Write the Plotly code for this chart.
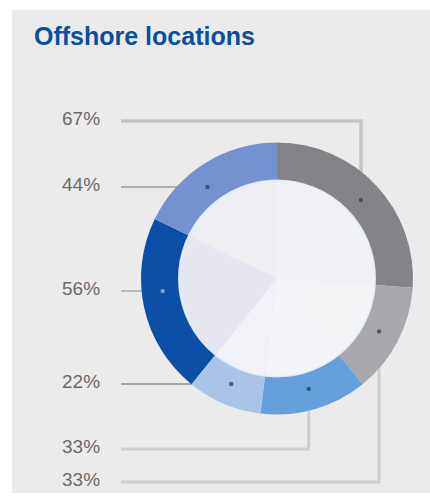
import numpy as np
import plotly.graph_objects as go

# ---- data (ring order, clockwise from 12 o'clock) ----
segment_labels = ["67%", "33%", "33%", "22%", "56%", "44%"]
segment_shares = [26.1, 13.1, 12.8, 8.9, 21.4, 17.8]
ring_colors = ["#838388", "#a7a7ac", "#66a0dc", "#a9c4e6", "#0b4ea6", "#7492d2"]
hole_colors = ["#f1f1f5", "#f4f4f7", "#f4f5f9", "#f1f2f7", "#e5e6f0", "#ededf2"]

# left-hand labels, top to bottom: (segment index, leader kind)
label_order = [0, 5, 4, 3, 2, 1]
leader_kind = ["v", "h", "h", "h", "v", "v"]
row_y = [121, 187, 291, 384, 449, 482]
leader_width = [3.5, 2, 2, 2, 3, 3]
leader_color = ["#c6c6c6", "#b3b0ac", "#bcbcbc", "#a9a9a9", "#cfcfcf", "#cfcfcf"]
dot_color = ["rgba(45,60,95,0.75)", "rgba(45,60,95,0.75)", "rgba(150,175,215,0.8)",
             "rgba(45,60,95,0.75)", "rgba(45,60,95,0.75)", "rgba(45,60,95,0.75)"]

title_text = "Offshore locations"

# ---- geometry (pixels) ----
W, H = 430, 500
cx, cy = 277.0, 278.5
R_out, R_in, R_mid = 136.0, 98.0, 115.0
line_x0 = 121

fig = go.Figure()

# invisible pixel-space axes for overlays
fig.update_xaxes(range=[0, W], visible=False, fixedrange=True, domain=[0, 1])
fig.update_yaxes(range=[H, 0], visible=False, fixedrange=True, domain=[0, 1])

# background panel
fig.add_shape(type="rect", xref="x", yref="y", x0=12, x1=W, y0=10, y1=493,
              fillcolor="#ebebeb", line_width=0, layer="below")

# mid-angles of segments
vals = np.array(segment_shares, dtype=float)
cum = np.cumsum(vals) / vals.sum() * 360.0
start = np.concatenate([[0.0], cum[:-1]])
mid = np.radians((start + cum) / 2.0)

# leaders
dots = []
for row, seg in enumerate(label_order):
    y = row_y[row]
    if leader_kind[row] == "v":
        dx = cx + R_mid * np.sin(mid[seg])
        dy = cy - R_mid * np.cos(mid[seg])
        xs, ys = [line_x0, dx, dx], [y, y, dy]
    else:
        dy = y
        dx = cx - np.sqrt(max(R_mid ** 2 - (y - cy) ** 2, 0))
        xs, ys = [line_x0, dx], [y, y]
    dots.append((dx, dy, dot_color[row]))
    fig.add_trace(go.Scatter(x=xs, y=ys, mode="lines",
                             line=dict(color=leader_color[row], width=leader_width[row]),
                             hoverinfo="skip", showlegend=False))
    fig.add_annotation(x=102, y=y - 2.5, xref="x", yref="y", text=segment_labels[seg],
                       showarrow=False, xanchor="right", yanchor="middle",
                       font=dict(family="Liberation Sans, Arial, sans-serif", size=19,
                                 color="#6a6a6a"))

# ring
fig.add_trace(go.Pie(
    values=segment_shares, labels=[f"s{i}" for i in range(len(segment_shares))],
    marker=dict(colors=ring_colors, line=dict(width=0)),
    hole=R_in / R_out, sort=False, direction="clockwise", rotation=0,
    textinfo="none", hoverinfo="skip", showlegend=False,
    domain=dict(x=[(cx - R_out) / W, (cx + R_out) / W],
                y=[1 - (cy + R_out) / H, 1 - (cy - R_out) / H]),
))
# pale interior
fig.add_trace(go.Pie(
    values=segment_shares, labels=[f"h{i}" for i in range(len(segment_shares))],
    marker=dict(colors=hole_colors, line=dict(width=0)),
    sort=False, direction="clockwise", rotation=0,
    textinfo="none", hoverinfo="skip", showlegend=False,
    domain=dict(x=[(cx - R_in) / W, (cx + R_in) / W],
                y=[1 - (cy + R_in) / H, 1 - (cy - R_in) / H]),
))

# inner rim highlight
fig.add_shape(type="circle", xref="x", yref="y", x0=cx - R_in, x1=cx + R_in,
              y0=cy - R_in, y1=cy + R_in, line=dict(color="rgba(225,240,255,0.9)", width=2),
              fillcolor="rgba(0,0,0,0)", layer="above")

# leader dots
for dx, dy, col in dots:
    fig.add_shape(type="circle", xref="x", yref="y", x0=dx - 2.2, x1=dx + 2.2,
                  y0=dy - 2.2, y1=dy + 2.2, fillcolor=col,
                  line_width=0, layer="above")

# title
fig.add_annotation(x=32, y=36, xref="x", yref="y", text=f"<b>{title_text}</b>",
                   showarrow=False, xanchor="left", yanchor="middle",
                   font=dict(family="Liberation Sans, Arial, sans-serif", size=25,
                             color="#0a4f9d"))

fig.update_layout(width=W, height=H, margin=dict(l=0, r=0, t=0, b=0),
                  paper_bgcolor="#ffffff", plot_bgcolor="rgba(0,0,0,0)")

fig.write_html("out.html", config={"displayModeBar": False},
               post_script="document.body.style.margin='0';document.body.style.padding='0';")
